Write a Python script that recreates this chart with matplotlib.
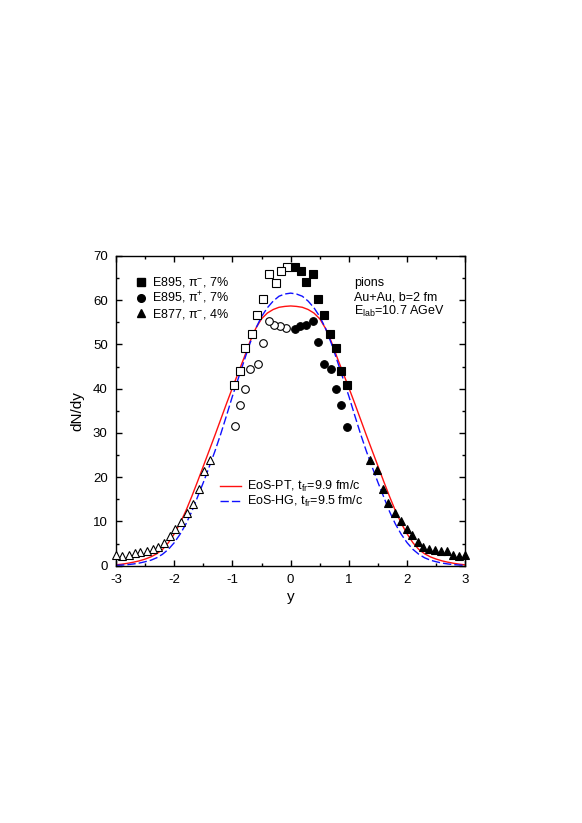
import matplotlib
matplotlib.use("Agg")
import matplotlib.pyplot as plt
from matplotlib.ticker import MultipleLocator
from matplotlib.lines import Line2D

plt.rcParams['font.family'] = ['Liberation Sans', 'DejaVu Sans']
plt.rcParams['mathtext.fontset'] = 'custom'
plt.rcParams['mathtext.rm'] = 'Liberation Sans'
plt.rcParams['mathtext.it'] = 'Liberation Sans:italic'
plt.rcParams['axes.unicode_minus'] = False

# E895 pi- (filled: measured, open: reflected)
sq_x = [0.07, 0.17, 0.27, 0.38, 0.47, 0.57, 0.68, 0.78, 0.87, 0.97]
sq_y = [67.6, 66.7, 64.1, 65.9, 60.2, 56.6, 52.3, 49.2, 43.9, 40.8]
sq_open_x = [-0.07, -0.17, -0.26, -0.37, -0.48, -0.57, -0.67, -0.78, -0.87, -0.97]
sq_open_y = [67.6, 66.5, 64.0, 65.9, 60.2, 56.6, 52.3, 49.2, 43.9, 40.8]

# E895 pi+
ci_x = [0.08, 0.16, 0.27, 0.38, 0.47, 0.57, 0.69, 0.78, 0.87, 0.96]
ci_y = [53.6, 54.2, 54.5, 55.2, 50.5, 45.6, 44.5, 40.0, 36.3, 31.4]
ci_open_x = [-0.08, -0.18, -0.29, -0.38, -0.48, -0.56, -0.69, -0.78, -0.87, -0.96]
ci_open_y = [53.7, 54.2, 54.3, 55.2, 50.4, 45.6, 44.5, 40.0, 36.3, 31.6]

# E877 pi-
tr_x = [1.37, 1.48, 1.58, 1.67, 1.79, 1.89, 1.99, 2.08, 2.18, 2.28,
        2.38, 2.48, 2.59, 2.68, 2.78, 2.89, 3.0]
tr_y = [23.9, 21.6, 17.4, 14.1, 12.0, 10.0, 8.4, 6.9, 5.4, 4.3,
        3.8, 3.5, 3.4, 3.4, 2.5, 2.3, 2.5]
tr_open_x = [-1.39, -1.48, -1.58, -1.67, -1.78, -1.88, -1.98, -2.07, -2.18, -2.27,
             -2.37, -2.47, -2.58, -2.68, -2.78, -2.89, -3.0]
tr_open_y = [23.9, 21.5, 17.4, 13.9, 12.0, 9.9, 8.2, 6.7, 5.2, 4.3,
             3.8, 3.4, 3.2, 2.9, 2.5, 2.2, 2.5]

# model curves, read every 0.1 in y
curve_x = [-3.0, -2.9, -2.8, -2.7, -2.6, -2.5, -2.4, -2.3, -2.2, -2.1,
           -2.0, -1.9, -1.8, -1.7, -1.6, -1.5, -1.4, -1.3, -1.2, -1.1,
           -1.0, -0.9, -0.8, -0.7, -0.6, -0.5, -0.4, -0.3, -0.2, -0.1,
           0.0, 0.1, 0.2, 0.3, 0.4, 0.5, 0.6, 0.7, 0.8, 0.9,
           1.0, 1.1, 1.2, 1.3, 1.4, 1.5, 1.6, 1.7, 1.8, 1.9,
           2.0, 2.1, 2.2, 2.3, 2.4, 2.5, 2.6, 2.7, 2.8, 2.9, 3.0]
pt_y = [0.2, 0.35, 0.55, 0.8, 1.1, 1.5, 2.0, 2.7, 3.7, 5.2,
        7.2, 9.6, 12.4, 15.6, 19.0, 22.5, 26.0, 29.5, 33.1, 36.7,
        40.2, 43.6, 47.0, 50.6, 53.6, 55.8, 57.1, 57.9, 58.4, 58.6,
        58.7, 58.6, 58.4, 57.9, 57.1, 55.8, 53.6, 50.6, 47.0, 43.6,
        40.2, 36.7, 33.1, 29.5, 26.0, 22.5, 19.0, 15.6, 12.4, 9.6,
        7.2, 5.2, 3.7, 2.7, 2.0, 1.5, 1.1, 0.8, 0.55, 0.35, 0.2]
hg_y = [0.1, 0.15, 0.25, 0.4, 0.6, 0.9, 1.25, 1.8, 2.6, 3.7,
        5.2, 7.1, 9.4, 12.2, 15.5, 18.8, 22.3, 25.9, 29.8, 34.0,
        38.3, 42.3, 46.3, 50.2, 53.6, 56.3, 58.3, 59.8, 60.9, 61.4,
        61.6, 61.4, 60.9, 59.8, 58.3, 56.3, 53.6, 50.2, 46.3, 42.3,
        38.3, 34.0, 29.8, 25.9, 22.3, 18.8, 15.5, 12.2, 9.4, 7.1,
        5.2, 3.7, 2.6, 1.8, 1.25, 0.9, 0.6, 0.4, 0.25, 0.15, 0.1]

fig = plt.figure(figsize=(5.82, 8.23), dpi=100)
ax = fig.add_axes([0.1993, 0.3126, 0.6002, 0.3764])

ax.plot(curve_x, pt_y, color='#ff1010', lw=1.0, zorder=2)
ax.plot(curve_x, hg_y, color='#1010ff', lw=1.0, dashes=(6, 2.2), zorder=2)

ms = 5.5
mk = dict(linestyle='none', markeredgewidth=0.8, markeredgecolor='black',
          clip_on=False, zorder=3)
ax.plot(sq_x, sq_y, 's', ms=ms, color='black', **mk)
ax.plot(sq_open_x, sq_open_y, 's', ms=ms, markerfacecolor='white', **mk)
ax.plot(ci_x, ci_y, 'o', ms=ms, color='black', **mk)
ax.plot(ci_open_x, ci_open_y, 'o', ms=ms, markerfacecolor='white', **mk)
ax.plot(tr_x, tr_y, '^', ms=ms + 0.5, color='black', **mk)
ax.plot(tr_open_x, tr_open_y, '^', ms=ms + 0.5, markerfacecolor='white', **mk)

ax.set_xlim(-3, 3)
ax.set_ylim(0, 70)
ax.xaxis.set_major_locator(MultipleLocator(1))
ax.xaxis.set_minor_locator(MultipleLocator(0.5))
ax.yaxis.set_major_locator(MultipleLocator(10))
ax.yaxis.set_minor_locator(MultipleLocator(5))
ax.tick_params(which='both', direction='in', top=True, right=True, width=1.0, labelsize=9.5)
ax.tick_params(which='major', length=4.3)
ax.tick_params(which='minor', length=2.2)
ax.tick_params(axis='x', pad=6)
ax.tick_params(axis='y', pad=6)
for s in ax.spines.values():
    s.set_linewidth(1.0)

ax.set_xlabel('y', fontsize=11, labelpad=3)
ax.set_ylabel('dN/dy', fontsize=11, labelpad=6)

h_data = [Line2D([], [], marker='s', ls='none', color='black', ms=ms),
          Line2D([], [], marker='o', ls='none', color='black', ms=ms),
          Line2D([], [], marker='^', ls='none', color='black', ms=ms + 0.5)]
leg1 = ax.legend(h_data, [r'E895, π$^{-}$, 7%', r'E895, π$^{+}$, 7%', r'E877, π$^{-}$, 4%'],
                 loc='upper left', bbox_to_anchor=(0.054, 0.937), frameon=False,
                 fontsize=9, handlelength=1.0, handletextpad=0.35, borderpad=0,
                 borderaxespad=0, labelspacing=0.05)
ax.add_artist(leg1)

h_curve = [Line2D([], [], color='#ff1010', lw=1.0),
           Line2D([], [], color='#1010ff', lw=1.0, dashes=(6, 2.2))]
ax.legend(h_curve, [r'EoS-PT, t$_{\rm fr}$=9.9 fm/c', r'EoS-HG, t$_{\rm fr}$=9.5 fm/c'],
          loc='upper left', bbox_to_anchor=(0.298, 0.28), frameon=False,
          fontsize=9, handlelength=1.65, handletextpad=0.5, borderpad=0,
          borderaxespad=0, labelspacing=0.0)

ax.text(0.681, 0.914, 'pions', transform=ax.transAxes, fontsize=9, va='center')
ax.text(0.681, 0.867, 'Au+Au, b=2 fm', transform=ax.transAxes, fontsize=9, va='center')
ax.text(0.681, 0.821, r'E$_{\rm lab}$=10.7 AGeV', transform=ax.transAxes, fontsize=9, va='center')

fig.savefig('out.png', dpi=100)
